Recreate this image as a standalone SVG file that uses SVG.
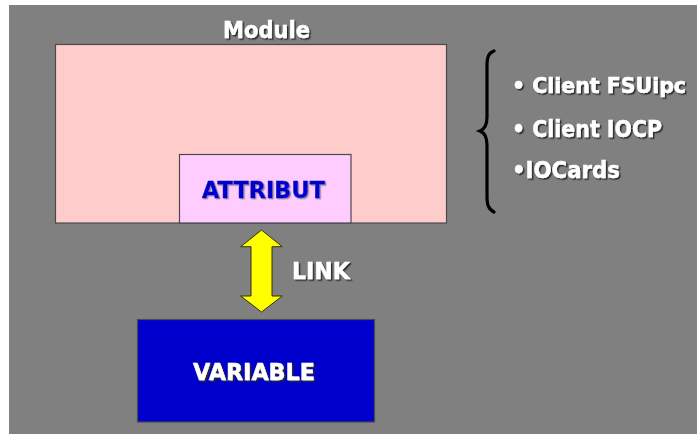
<svg xmlns="http://www.w3.org/2000/svg" width="697" height="434" viewBox="0 0 697 434">
  <style>
    .lbl { font-family: "DejaVu Sans", Verdana, sans-serif; font-weight: bold; font-size: 23px; stroke-width: 0.45; }
    .white { fill: #ffffff; stroke: #ffffff; filter: url(#shadow); }
    .blue { fill: #0000cc; stroke: #0000cc; filter: url(#shadowLight); }
    .box { stroke: #4a4a4a; stroke-width: 1.2; }
    .list { font-size: 21.5px; stroke-width: 0.6; }
  </style>
  <defs>
    <filter id="shadow" x="-10%" y="-20%" width="130%" height="150%">
      <feDropShadow dx="1.5" dy="1.5" stdDeviation="0.3" flood-color="#2a2a2a" flood-opacity="1"/>
    </filter>
    <filter id="shadowLight" x="-10%" y="-20%" width="130%" height="150%">
      <feDropShadow dx="1.2" dy="1.2" stdDeviation="0.3" flood-color="#9a8a9a" flood-opacity="1"/>
    </filter>
  </defs>

  <!-- page background -->
  <rect x="0" y="0" width="697" height="434" fill="#ffffff"/>
  <rect x="9" y="5" width="688" height="429" fill="#808080"/>

  <!-- module with its attribute slot -->
  <g id="module">
    <rect class="box" x="55.5" y="44.5" width="391" height="178.5" fill="#ffcccc"/>
    <text class="lbl white" x="223" y="38" textLength="87" lengthAdjust="spacingAndGlyphs">Module</text>
  </g>
  <g id="attribut">
    <rect class="box" x="179.5" y="154.5" width="171.5" height="68.5" fill="#ffccff"/>
    <text class="lbl blue" x="202" y="198" textLength="123" lengthAdjust="spacingAndGlyphs">ATTRIBUT</text>
  </g>

  <!-- variable -->
  <g id="variable">
    <rect class="box" x="137.5" y="319.5" width="237" height="102.5" fill="#0000cc" stroke="#333333"/>
    <text class="lbl white" x="193" y="380" textLength="122" lengthAdjust="spacingAndGlyphs">VARIABLE</text>
  </g>

  <!-- source list -->
  <g id="sources">
    <path d="M494,51 C488,53 487,58 487,66 L487,117 C487,125 485,129 480,131 C485,133 487,137 487,145 L487,196 C487,204 488,209 494,212" fill="none" stroke="#000000" stroke-width="3.2" stroke-linecap="round"/>
    <text class="lbl white list" x="512" y="93" textLength="174" lengthAdjust="spacingAndGlyphs">• Client FSUipc</text>
    <text class="lbl white" x="512" y="137" textLength="150" lengthAdjust="spacingAndGlyphs">• Client IOCP</text>
    <text class="lbl white" x="512" y="178" textLength="108" lengthAdjust="spacingAndGlyphs">•IOCards</text>
  </g>

  <!-- connectors -->
  <g id="connectors">
    <polygon points="261.5,230 282.3,246.7 272,246.7 272,296 282.3,296 261.5,312 240.7,296 251,296 251,246.7 240.7,246.7" fill="#ffff00" stroke="#333300" stroke-width="1" stroke-linejoin="miter"/>
    <text class="lbl white" x="292" y="279" textLength="58" lengthAdjust="spacingAndGlyphs">LINK</text>
  </g>
</svg>
